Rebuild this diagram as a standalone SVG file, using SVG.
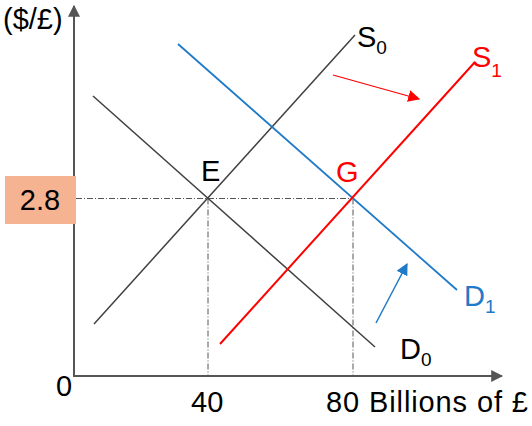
<svg xmlns="http://www.w3.org/2000/svg" width="532" height="426" viewBox="0 0 532 426">
<style>
text{font-family:"Liberation Sans",Arial,sans-serif;font-size:29px}
.sub{font-size:19px}
.blk{fill:#000}.red{fill:#FF0000}.blu{fill:#1F7AC8}
.axis{stroke:#555;stroke-width:2;fill:none}
.guide{stroke:#555;stroke-width:1;stroke-dasharray:6,2,1,2;fill:none}
.dline{stroke:#404040;stroke-width:1.5}
</style>
<defs>
<marker id="axh" viewBox="0 0 10 10" refX="9" refY="5" markerWidth="12" markerHeight="12" orient="auto" markerUnits="userSpaceOnUse"><path d="M0,0L10,5L0,10z" fill="#555"/></marker>
<marker id="rh" viewBox="0 0 10 10" refX="9" refY="5" markerWidth="12" markerHeight="12" orient="auto" markerUnits="userSpaceOnUse"><path d="M0,0L10,5L0,10z" fill="#FF0000"/></marker>
<marker id="bh" viewBox="0 0 10 10" refX="9" refY="5" markerWidth="12" markerHeight="12" orient="auto" markerUnits="userSpaceOnUse"><path d="M0,0L10,5L0,10z" fill="#1F7AC8"/></marker>
</defs>
<g id="axes">
<line class="axis" x1="74" y1="377" x2="74" y2="6" marker-end="url(#axh)"/>
<line class="axis" x1="73" y1="376" x2="502" y2="376" marker-end="url(#axh)"/>
<text x="3" y="29">($/£)</text>
<text x="56" y="396">0</text>
<text x="191" y="412">40</text>
<text x="326" y="412" textLength="202" lengthAdjust="spacing">80 Billions of £</text>
</g>
<g id="guides">
<line class="guide" x1="76" y1="198.5" x2="353" y2="198.5"/>
<line class="guide" x1="208" y1="198.5" x2="208" y2="375"/>
<line class="guide" x1="353" y1="198.5" x2="353" y2="375"/>
</g>
<g id="price-box">
<rect x="5" y="176" width="71" height="48" fill="#F5B392"/>
<text x="40" y="210" text-anchor="middle">2.8</text>
</g>
<g id="connectors">
<line id="S0" class="dline" x1="94" y1="324" x2="355" y2="35"/>
<line id="D0" class="dline" x1="93" y1="96" x2="375" y2="347"/>
<line id="D1" stroke="#1F7AC8" stroke-width="1.8" x1="178" y1="44" x2="457" y2="290"/>
<line id="S1" stroke="#FF0000" stroke-width="2" x1="220" y1="344" x2="475" y2="62"/>
<line stroke="#FF0000" stroke-width="1.2" x1="333" y1="75" x2="419" y2="99" marker-end="url(#rh)"/>
<line stroke="#1F7AC8" stroke-width="1.5" x1="376" y1="323" x2="407" y2="264" marker-end="url(#bh)"/>
</g>
<g id="labels">
<text class="blk" x="357" y="47">S<tspan class="sub" dy="7">0</tspan></text>
<text class="red" x="472" y="67">S<tspan class="sub" dy="10">1</tspan></text>
<text class="blu" x="464" y="306">D<tspan class="sub" dy="7">1</tspan></text>
<text class="blk" x="400" y="359">D<tspan class="sub" dy="7">0</tspan></text>
<text class="blk" x="201" y="181">E</text>
<text class="red" x="336" y="182">G</text>
</g>
</svg>
